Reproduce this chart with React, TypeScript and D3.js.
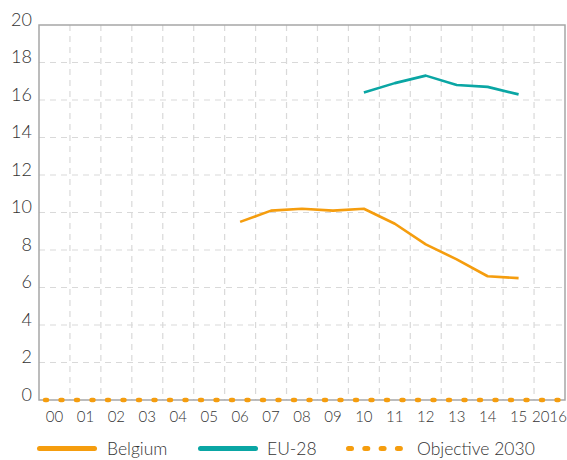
import React, { useEffect, useRef } from "react";
import * as d3 from "d3";

const years = ["00", "01", "02", "03", "04", "05", "06", "07", "08", "09", "10", "11", "12", "13", "14", "15", "2016"];
const yTicks = [0, 2, 4, 6, 8, 10, 12, 14, 16, 18, 20];

const belgiumYears = ["06", "07", "08", "09", "10", "11", "12", "13", "14", "15"];
const belgiumValues = [9.5, 10.1, 10.2, 10.1, 10.2, 9.4, 8.3, 7.5, 6.6, 6.5];

const euYears = ["10", "11", "12", "13", "14", "15"];
const euValues = [16.4, 16.9, 17.3, 16.8, 16.7, 16.3];

const objectiveValue = 0;

const ORANGE = "#f59d0e";
const TEAL = "#0aa6a4";

export default function App() {
  const ref = useRef<SVGSVGElement>(null);

  useEffect(() => {
    const svg = d3.select(ref.current);
    svg.selectAll("*").remove();

    const left = 39, right = 565, top = 25, bottom = 400;

    const x = d3.scaleBand().domain(years).range([left, right]);
    const y = d3.scaleLinear().domain([0, 20]).range([bottom, top]);
    const cx = (d: string) => (x(d) as number) + x.bandwidth() / 2;

    const font = "Lato, 'Open Sans', sans-serif";

    // grid
    const grid = svg.append("g");
    grid.selectAll(".hg")
      .data(yTicks.filter(t => t > 0 && t < 20))
      .enter().append("line")
      .attr("x1", left).attr("x2", right)
      .attr("y1", d => y(d)).attr("y2", d => y(d))
      .attr("stroke", "#d9d9d9").attr("stroke-width", 1.2)
      .attr("stroke-dasharray", "6 5");
    grid.selectAll(".vg")
      .data(years.slice(1))
      .enter().append("line")
      .attr("x1", d => x(d) as number).attr("x2", d => x(d) as number)
      .attr("y1", top).attr("y2", bottom)
      .attr("stroke", "#d9d9d9").attr("stroke-width", 1.2)
      .attr("stroke-dasharray", "6 5");

    // frame
    svg.append("rect")
      .attr("x", left).attr("y", top)
      .attr("width", right - left).attr("height", bottom - top)
      .attr("fill", "none").attr("stroke", "#a6a6a6").attr("stroke-width", 1.5);

    // y labels
    svg.append("g").selectAll("text")
      .data(yTicks)
      .enter().append("text")
      .attr("x", 32).attr("y", d => y(d) + 0.5)
      .attr("text-anchor", "end")
      .attr("font-family", font).attr("font-size", 18).attr("font-weight", 300)
      .attr("fill", "#333")
      .text(d => d);

    // x labels
    svg.append("g").selectAll("text")
      .data(years)
      .enter().append("text")
      .attr("x", d => cx(d)).attr("y", 422)
      .attr("text-anchor", "middle")
      .attr("font-family", font).attr("font-size", 15).attr("font-weight", 300)
      .attr("fill", "#333")
      .text(d => d);

    const line = d3.line<[string, number]>()
      .x(d => cx(d[0]))
      .y(d => y(d[1]));

    // objective
    svg.append("line")
      .attr("x1", left + 6).attr("x2", right)
      .attr("y1", y(objectiveValue)).attr("y2", y(objectiveValue))
      .attr("stroke", ORANGE).attr("stroke-width", 4.5)
      .attr("stroke-linecap", "round")
      .attr("stroke-dasharray", "2 13.5");

    svg.append("path")
      .datum(belgiumYears.map((d, i) => [d, belgiumValues[i]] as [string, number]))
      .attr("d", line)
      .attr("fill", "none").attr("stroke", ORANGE).attr("stroke-width", 2.6)
      .attr("stroke-linejoin", "round");

    svg.append("path")
      .datum(euYears.map((d, i) => [d, euValues[i]] as [string, number]))
      .attr("d", line)
      .attr("fill", "none").attr("stroke", TEAL).attr("stroke-width", 2.6)
      .attr("stroke-linejoin", "round");

    // legend
    const legend = [
      { label: "Belgium", color: ORANGE, dash: null, x1: 39.5, x2: 94.5, tx: 107 },
      { label: "EU-28", color: TEAL, dash: null, x1: 200.5, x2: 255.5, tx: 267 },
      { label: "Objective 2030", color: ORANGE, dash: "3 13.3", x1: 348.5, x2: 401, tx: 417 },
    ];
    const lg = svg.append("g");
    legend.forEach(l => {
      lg.append("line")
        .attr("x1", l.x1).attr("x2", l.x2)
        .attr("y1", 448.5).attr("y2", 448.5)
        .attr("stroke", l.color).attr("stroke-width", 5)
        .attr("stroke-linecap", "round")
        .attr("stroke-dasharray", l.dash);
      lg.append("text")
        .attr("x", l.tx).attr("y", 455)
        .attr("font-family", font).attr("font-size", 17.5).attr("font-weight", 300)
        .attr("fill", "#333")
        .text(l.label);
    });
  }, []);

  return (
    <svg ref={ref} width={567} height={460}
      style={{ position: "absolute", left: 0, top: 0, background: "#fff" }} />
  );
}
